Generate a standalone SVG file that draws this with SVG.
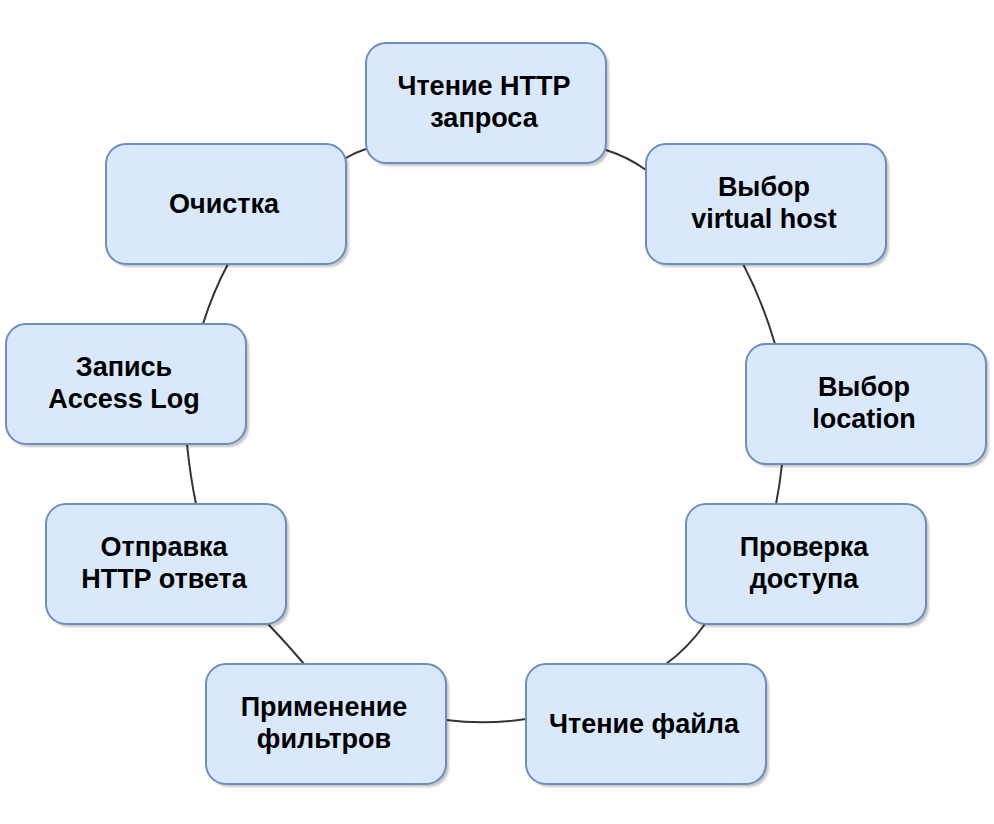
<svg xmlns="http://www.w3.org/2000/svg" width="994" height="824" viewBox="0 0 994 824">
<defs>
<filter id="sh" x="-10%" y="-10%" width="120%" height="120%"><feGaussianBlur stdDeviation="1.2"/></filter>
</defs>
<style>
.bg{fill:#ffffff}
.box{fill:#dae8fc;stroke:#6c8ebf;stroke-width:2}
.shadow{fill:#000;opacity:0.22;filter:url(#sh)}
.lbl{font-family:"Liberation Sans",Arial,Helvetica,sans-serif;font-weight:bold;font-size:27px;fill:#000;text-anchor:middle}
.edge{fill:none;stroke:#333333;stroke-width:2}
</style>
<rect class="bg" x="0" y="0" width="994" height="824"/>
<g id="connectors">
<path class="edge" d="M606,150 Q628,157 646,170"/>
<path class="edge" d="M743,264 Q762,300 775,344"/>
<path class="edge" d="M782,464 Q780,484 776,504"/>
<path class="edge" d="M705,624 Q688,648 666,664"/>
<path class="edge" d="M526,719 Q486,725 446,720"/>
<path class="edge" d="M304,664 Q288,645 268,624"/>
<path class="edge" d="M196,504 Q190,475 187,444"/>
<path class="edge" d="M203,324 Q213,292 228,264"/>
<path class="edge" d="M346,158 Q356,152 366,149"/>
</g>
<g id="n1">
<rect class="shadow" x="369" y="46" width="240" height="120" rx="20"/>
<rect class="box" x="366" y="43" width="240" height="120" rx="20"/>
<text class="lbl" x="484" y="95">Чтение HTTP</text>
<text class="lbl" x="484" y="127">запроса</text>
</g>
<g id="n2">
<rect class="shadow" x="649" y="147" width="240" height="120" rx="20"/>
<rect class="box" x="646" y="144" width="240" height="120" rx="20"/>
<text class="lbl" x="764" y="196">Выбор</text>
<text class="lbl" x="764" y="228">virtual host</text>
</g>
<g id="n3">
<rect class="shadow" x="749" y="347" width="240" height="120" rx="20"/>
<rect class="box" x="746" y="344" width="240" height="120" rx="20"/>
<text class="lbl" x="864" y="396">Выбор</text>
<text class="lbl" x="864" y="428">location</text>
</g>
<g id="n4">
<rect class="shadow" x="689" y="507" width="240" height="120" rx="20"/>
<rect class="box" x="686" y="504" width="240" height="120" rx="20"/>
<text class="lbl" x="804" y="556">Проверка</text>
<text class="lbl" x="804" y="588">доступа</text>
</g>
<g id="n5">
<rect class="shadow" x="529" y="667" width="240" height="120" rx="20"/>
<rect class="box" x="526" y="664" width="240" height="120" rx="20"/>
<text class="lbl" x="644" y="733">Чтение файла</text>
</g>
<g id="n6">
<rect class="shadow" x="209" y="667" width="240" height="120" rx="20"/>
<rect class="box" x="206" y="664" width="240" height="120" rx="20"/>
<text class="lbl" x="324" y="716">Применение</text>
<text class="lbl" x="324" y="748">фильтров</text>
</g>
<g id="n7">
<rect class="shadow" x="49" y="507" width="240" height="120" rx="20"/>
<rect class="box" x="46" y="504" width="240" height="120" rx="20"/>
<text class="lbl" x="164" y="556">Отправка</text>
<text class="lbl" x="164" y="588">HTTP ответа</text>
</g>
<g id="n8">
<rect class="shadow" x="9" y="327" width="240" height="120" rx="20"/>
<rect class="box" x="6" y="324" width="240" height="120" rx="20"/>
<text class="lbl" x="124" y="376">Запись</text>
<text class="lbl" x="124" y="408">Access Log</text>
</g>
<g id="n9">
<rect class="shadow" x="109" y="147" width="240" height="120" rx="20"/>
<rect class="box" x="106" y="144" width="240" height="120" rx="20"/>
<text class="lbl" x="224" y="213">Очистка</text>
</g>
</svg>
